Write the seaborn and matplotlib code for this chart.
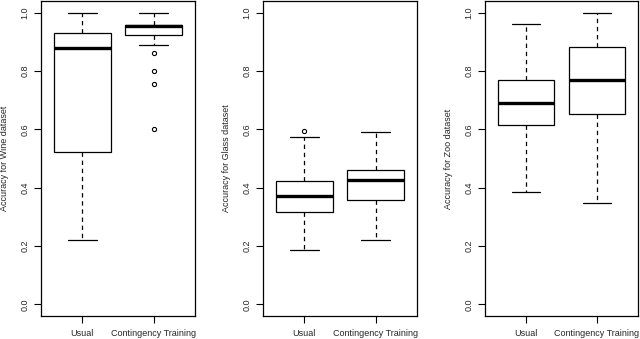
import pandas as pd
import seaborn as sns
import matplotlib.pyplot as plt

# accuracy values per run
groups = ['Usual', 'Contingency Training']
wine_usual = [0.222, 0.40, 0.522, 0.70, 0.878, 0.90, 0.932, 0.96, 1.0]
wine_ct = [0.600, 0.755, 0.801, 0.862, 0.889, 0.922, 0.922, 0.944, 0.944, 0.955, 0.955,
           0.955, 0.955, 0.958, 0.958, 0.958, 0.978, 0.978, 1.0, 1.0, 1.0]
glass_usual = [0.185, 0.26, 0.315, 0.34, 0.371, 0.40, 0.424, 0.574, 0.594]
glass_ct = [0.222, 0.30, 0.359, 0.39, 0.426, 0.44, 0.462, 0.52, 0.592]
zoo_usual = [0.384, 0.55, 0.614, 0.65, 0.692, 0.73, 0.769, 0.85, 0.961]
zoo_ct = [0.346, 0.55, 0.653, 0.72, 0.769, 0.82, 0.883, 0.94, 1.0]

datasets = ['Wine', 'Glass', 'Zoo']
values = [(wine_usual, wine_ct), (glass_usual, glass_ct), (zoo_usual, zoo_ct)]
yticks = [0.0, 0.2, 0.4, 0.6, 0.8, 1.0]


def make_frame(usual, ct):
    return pd.DataFrame({
        'method': [groups[0]] * len(usual) + [groups[1]] * len(ct),
        'acc': list(usual) + list(ct),
    })


sns.set_theme(style='white')
plt.rcParams['font.family'] = ['Liberation Sans', 'DejaVu Sans']

fig = plt.figure(figsize=(6.4, 3.39), dpi=100)
W, H = 640, 339
lefts = [41, 263, 485]
widths = [154, 154, 153]

for name, (usual, ct), left, w in zip(datasets, values, lefts, widths):
    ax = fig.add_axes([left / W, (H - 316) / H, w / W, 315 / H])
    df = make_frame(usual, ct)
    sns.boxplot(data=df, x='method', y='acc', order=groups, ax=ax,
                color='white', linecolor='black', saturation=1, width=0.8,
                linewidth=0.9,
                medianprops=dict(color='black', linewidth=2.4),
                whiskerprops=dict(color='black', linewidth=0.9, linestyle=(0, (3.5, 3))),
                capprops=dict(color='black', linewidth=0.9),
                flierprops=dict(marker='o', markersize=3, markerfacecolor='none',
                                markeredgecolor='black', markeredgewidth=0.8))
    ax.set_xlim(-0.58, 1.58)
    ax.set_ylim(-0.04, 1.04)
    ax.set_yticks(yticks)
    ax.set_yticklabels([f'{t:.1f}' for t in yticks], rotation=90, va='center')
    ax.set_xlabel('')
    ax.set_ylabel(f'Accuracy for {name} dataset', fontsize=6.5)
    ax.yaxis.set_label_coords(-0.21, 0.5)
    ax.tick_params(axis='both', direction='out', length=5, width=0.8,
                   labelsize=6.5, color='black', left=True, bottom=True)
    ax.tick_params(axis='y', pad=3.5)
    ax.tick_params(axis='x', pad=4.5)
    for sp in ax.spines.values():
        sp.set_color('black')
        sp.set_linewidth(0.9)

fig.savefig('out.png', dpi=100)
